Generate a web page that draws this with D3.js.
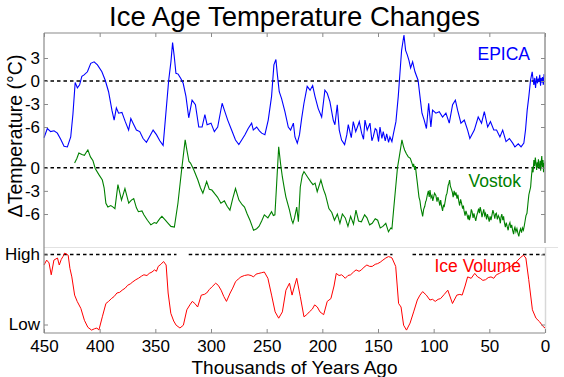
<!DOCTYPE html>
<html>
<head>
<meta charset="utf-8">
<script src="https://cdn.jsdelivr.net/npm/d3@7"></script>
<style>
  body { margin: 0; background: #fff; }
  svg text { font-family: "Liberation Sans", Arial, sans-serif; }
</style>
</head>
<body>
<div class="chart"></div>
<script>
// ages in thousands of years ago, temperature anomaly in degC
const ageTicks = [450, 400, 350, 300, 250, 200, 150, 100, 50, 0]
const epicaTicks = [3, 0, -3, -6]
const vostokTicks = [0, -3, -6]
const iceTicks = [1, 0]
const iceTickLabels = ["Low", "High"]
const iceRefSpans = [[450, 331], [320, 137], [119, 0]]

const epica = [
  [450,-7.4],[447,-6.2],[444,-6.6],[441,-6.5],[438,-6.8],[435,-7.6],[432,-8.5],[429,-8.6],[426,-7.3],[424,-4.3],
  [422,-0.2],[420,-0.9],[418,-0.5],[416,0.6],[414,0.8],[411,1.2],[408,2.3],[405,2.5],[402,2.1],[398,1.2],
  [395,0.1],[392,-1.4],[389,-3.8],[387,-5.1],[385,-3.5],[383,-4.2],[380,-4.1],[377,-5.3],[374,-6.4],[372,-4.9],
  [370,-5.5],[367,-6.4],[364,-6.6],[361,-7.5],[358,-8.0],[355,-7.2],[352,-6.4],[349,-7.0],[346,-7.8],[343,-8.4],
  [341,-5.0],[338,0.1],[336,2.5],[334.5,5.0],[333,3.2],[331.5,1.0],[329.5,0.9],[327,0.3],[325,-0.3],[322.5,-2.0],
  [320,-4.8],[317,-2.5],[314,-3.1],[311,-6.0],[308,-6.0],[305.5,-4.4],[303.5,-5.7],[300,-5.5],[297,-6.6],[294,-6.0],
  [290,-2.9],[288,-3.8],[285,-5.1],[281.5,-6.4],[278,-7.7],[275,-8.3],[272,-7.6],[269.5,-7.0],[266.6,-6.2],[263.5,-5.5],
  [262,-6.4],[259,-6.0],[256.5,-6.5],[254.5,-6.8],[251.6,-7.0],[248.6,-5.1],[245.6,-2.0],[243.5,2.1],[241.7,2.8],[240.5,1.0],
  [238.7,-1.4],[236.6,-2.3],[233.6,-4.0],[230.6,-6.0],[228.5,-6.4],[226,-5.5],[224.6,-7.3],[222.5,-8.1],[220.5,-7.0],[218.6,-4.9],
  [216.5,-2.9],[213.6,-0.7],[211,-1.2],[208.7,-0.6],[206.6,-2.0],[203.7,-3.6],[200.6,-4.7],[197.7,-1.2],[195.6,-1.6],[193.2,-2.7],
  [190.2,-5.1],[188.7,-5.7],[186.6,-3.1],[184.8,-6.4],[182.7,-7.7],[180,-8.3],[178,-7.0],[176.7,-5.7],[174,-7.4],[172.2,-5.3],
  [170,-6.6],[168,-5.8],[166.8,-5.3],[164.7,-6.8],[163,-7.6],[161.7,-5.1],[159.7,-6.4],[157.2,-5.5],[155.5,-7.8],[154.3,-7.3],
  [152.5,-6.2],[151.2,-6.4],[149.5,-7.9],[148.2,-6.0],[146.5,-7.5],[145.3,-6.6],[143.5,-7.8],[142.2,-6.9],[140.5,-8.0],[139.3,-7.3],
  [137.5,-7.9],[136.3,-7.0],[133.9,-5.3],[131.8,-2.0],[130.3,1.0],[128.8,4.0],[126.7,6.0],[125.2,4.0],[123.7,3.4],[122.2,2.7],
  [120.7,1.7],[118.9,2.5],[116.8,1.2],[114,0.1],[112.3,-2.0],[110.5,-4.2],[108.5,-5.1],[106.5,-6.2],[104.5,-2.9],[102.5,-6.0],
  [101,-3.8],[98,-4.2],[95,-4.0],[92,-4.7],[89,-4.2],[86,-5.5],[83,-3.1],[80.5,-2.5],[78.5,-3.8],[75.5,-5.5],
  [72.5,-5.1],[69.5,-6.4],[67.5,-7.5],[63.5,-6.4],[60,-4.7],[57,-5.5],[54.5,-4.0],[51.5,-6.0],[49,-5.3],[46,-6.4],
  [43.5,-6.4],[40.5,-7.3],[38,-6.4],[35,-7.9],[32,-7.5],[29,-8.1],[27,-8.6],[24,-8.2],[21.5,-8.6],[19,-8.1],
  [17.5,-6.4],[16,-3.8],[14.5,-2.0],[13,0.1],[11.5,1.2],[10.8,0.3],[10,-0.5],[9.2,0.4],[8.5,-0.9],[7.5,0.6],
  [6.8,-0.3],[6,0.3],[5.5,-0.1],[4.7,0.8],[4,-0.6],[3.5,0.4],[2.8,-0.2],[2.2,0.5],[1.5,-0.5],[0.8,0.9],[0,0.6]
]

const vostok = [
  [422.5,0.6],[420.5,1.2],[418.7,1.9],[416,1.7],[413.7,1.6],[412,2.0],[410.6,2.3],[408.3,1.4],[406,0.9],[404,-0.1],
  [400.7,-0.9],[397.6,-1.6],[396,-2.6],[394.4,-4.6],[392.6,-5.1],[390,-4.9],[387.9,-5.1],[386.3,-5.3],[383.6,-2.2],[380.4,-4.2],
  [377.3,-2.7],[373.9,-4.6],[371.5,-4.2],[369.4,-4.0],[367,-5.2],[365.2,-5.7],[362,-5.6],[360.3,-6.1],[357.1,-6.8],[354,-7.4],
  [351,-7.1],[349,-7.2],[346,-6.6],[344.1,-6.3],[341,-6.8],[338.5,-7.2],[336,-7.6],[332.9,-7.7],[329.7,-4.6],[326.4,-0.3],
  [323.2,3.6],[321.7,2.3],[319.8,0.8],[318.4,0.6],[315.4,-0.3],[311.8,-1.6],[309.5,-2.6],[307.3,-3.3],[303.9,-1.8],[301.5,-2.8],
  [299.2,-2.9],[296.5,-3.4],[294.2,-3.8],[291.1,-4.6],[288,-4.3],[285.5,-5.0],[283,-5.5],[280.5,-4.0],[278,-2.7],[274.9,-4.2],
  [272,-4.8],[269.9,-5.1],[267.5,-6.0],[265,-6.8],[263,-7.6],[261.8,-8.1],[259,-7.9],[256.9,-7.6],[254.5,-6.9],[252.1,-6.1],
  [248.9,-6.5],[245.6,-5.7],[244,-6.2],[242.6,-6.1],[241,-2.0],[239.2,2.7],[237.5,0.5],[235.9,-1.2],[234,-2.8],[232.7,-3.8],
  [229.5,-5.5],[227.5,-6.8],[226.4,-7.2],[225,-6.5],[223,-5.1],[221.5,-7.0],[219.8,-2.5],[218,-1.0],[216.5,-0.5],[213.3,-1.2],
  [210.5,-1.8],[208.4,-2.2],[206.5,-2.0],[204.6,-3.1],[201.3,-1.6],[199,-2.8],[197.2,-3.5],[194.1,-5.3],[191.5,-5.8],[189.1,-6.8],
  [186.5,-6.0],[184.2,-7.2],[182,-6.0],[179.4,-6.5],[177,-7.6],[174.6,-6.3],[172,-7.3],[169.8,-5.5],[167.5,-6.9],[164.9,-7.0],
  [162,-6.1],[159.9,-6.5],[157.5,-7.4],[155.2,-7.2],[152.5,-6.6],[150.3,-6.8],[148,-7.8],[145.6,-7.6],[143,-7.2],[140.6,-8.3],
  [138.5,-7.8],[137.5,-7.9],[136,-5.5],[134.1,-2.5],[132.5,0.0],[130.9,1.4],[128.5,3.6],[127.2,2.8],[126.1,2.3],[124.5,1.8],
  [122.8,1.4],[121,1.2],[119.5,0.6],[118.5,0.1],[118,0.5],[117,-0.3],[116.4,0.2],[115.5,-1.0],[114.8,-1.8],[114,-2.8],
  [113.2,-3.8],[112.3,-4.3],[111.5,-5.2],[110.6,-5.8],[109.9,-6.3],[109,-5.4],[108,-5.0],[107.2,-4.4],[106.6,-4.2],[105.8,-3.6],
  [104.8,-3.0],[104,-3.8],[103.3,-2.9],[102.4,-3.9],[101.5,-3.6],[100.8,-4.3],[100.2,-3.9],[99.2,-3.3],[98,-3.6],[97,-4.4],
  [96.2,-3.8],[95.4,-4.2],[94.5,-4.9],[93.7,-4.2],[93,-4.9],[92,-5.6],[91.2,-4.8],[90.6,-5.1],[89.6,-4.3],[88.8,-3.6],
  [88,-3.3],[87,-2.3],[86.3,-2.0],[85.7,-1.6],[85,-2.4],[84,-2.8],[83.2,-3.2],[82.5,-3.8],[81.6,-3.0],[80.8,-3.6],
  [80,-3.2],[79,-4.0],[78.2,-3.5],[77.6,-4.2],[76.7,-4.9],[75.8,-4.1],[75,-4.6],[74,-5.3],[73.3,-4.9],[72.8,-5.5],
  [71.8,-6.2],[71,-5.6],[70,-6.1],[69.1,-6.7],[68.4,-6.1],[67.9,-6.8],[66.9,-6.2],[66.2,-5.4],[65.5,-5.7],[64.6,-6.5],
  [63.8,-5.9],[63.1,-6.4],[62.2,-6.9],[61.3,-6.2],[60.5,-5.8],[59.6,-5.3],[58.9,-5.9],[58.2,-5.1],[57.3,-5.7],[56.6,-6.4],
  [56,-6.0],[55,-5.4],[54.2,-6.2],[53.4,-5.9],[52.5,-6.7],[51.7,-6.0],[51,-6.4],[50.1,-7.0],[49.3,-6.3],[48.5,-6.8],
  [47.6,-6.1],[46.8,-5.5],[46,-5.9],[45.1,-6.6],[44.4,-6.0],[43.7,-5.9],[42.8,-6.7],[41.9,-6.2],[41,-6.5],[40.1,-7.2],
  [39.5,-6.4],[38.8,-6.0],[37.9,-6.8],[37.2,-6.3],[36.5,-7.1],[35.6,-7.7],[34.8,-7.1],[34,-7.6],[33.1,-8.1],[32.3,-7.4],
  [31.5,-7.1],[30.7,-7.8],[29.9,-7.4],[29.1,-8.1],[28.2,-8.6],[27.5,-7.9],[27,-7.7],[26.1,-8.3],[25.2,-7.9],[24.3,-8.5],
  [23.5,-8.9],[22.7,-8.2],[22,-7.9],[21.1,-8.4],[20.3,-7.8],[19.4,-8.1],[18.6,-7.5],[18,-7.0],[17.1,-6.2],[16.2,-5.9],
  [15.3,-4.6],[14.5,-3.5],[13.7,-3.0],[12.9,-2.5],[12.1,-1.0],[11.3,0.1],[10.7,-0.6],[10,1.0],[9.3,0.2],[8.7,1.3],
  [8.1,0.6],[7.5,-0.3],[6.9,0.7],[6.5,0.0],[5.9,1.1],[5.4,0.2],[4.9,-0.1],[4.3,0.9],[3.9,-0.4],[3.5,0.5],
  [2.9,1.5],[2.4,0.1],[1.8,1.0],[1.3,-0.6],[0.9,0.6],[0.5,0.2],[0,0.8]
]

// ice volume, 0 = Low, 1 = High
const iceVolume = [
  [450,0.85],[447.6,0.92],[445.5,0.88],[443.5,0.71],[441.1,0.92],[437.9,0.95],[436.3,0.85],[434.5,0.93],[433,0.97],[431.4,1.02],
  [428.3,0.99],[426.7,0.80],[425,0.68],[422.5,0.42],[420.2,0.33],[416.9,0.23],[413.7,0.06],[410.6,-0.04],[407.3,-0.08],[404.5,-0.06],
  [402.5,-0.05],[400.7,-0.08],[397.6,0.11],[394.4,0.30],[392,0.33],[389.5,0.37],[387,0.40],[384.5,0.45],[382,0.46],[379.8,0.49],
  [377,0.52],[374.9,0.56],[372.5,0.58],[370.2,0.61],[367.5,0.64],[365.2,0.66],[362.5,0.69],[360.3,0.71],[357.5,0.70],[355.5,0.73],
  [353,0.75],[350.7,0.78],[349,0.76],[347.4,0.83],[345,0.86],[342.6,0.90],[340.3,0.85],[338.5,0.45],[336.1,0.16],[333.5,0.05],
  [331.3,-0.01],[327.9,-0.05],[324.8,-0.01],[321.7,0.21],[319,0.28],[316.8,0.33],[314.5,0.30],[312,0.25],[308.7,0.42],[306,0.43],
  [303.9,0.45],[301.5,0.50],[299,0.54],[295.8,0.59],[293.5,0.56],[290.9,0.49],[288.5,0.40],[286.1,0.33],[282.8,0.45],[280.5,0.52],
  [278,0.61],[275.5,0.65],[273.1,0.68],[270,0.70],[266.7,0.71],[264,0.70],[261.8,0.68],[259.5,0.72],[257,0.73],[254.5,0.74],
  [252.1,0.75],[248.9,0.66],[245.6,0.42],[242.4,0.18],[239.2,0.09],[235.9,0.18],[232.7,0.49],[229.5,0.59],[227.2,0.42],[225,0.55],
  [223,0.66],[219.8,0.40],[216.5,0.11],[214,0.14],[211.7,0.18],[209,0.22],[206.9,0.28],[204.5,0.25],[202.1,0.18],[198.8,0.14],
  [195.6,0.33],[192.3,0.37],[189.5,0.55],[187.5,0.73],[185,0.70],[182.7,0.71],[180.5,0.68],[179.4,0.66],[177,0.70],[174.6,0.71],
  [172,0.75],[169.7,0.78],[167,0.76],[164.9,0.78],[162.5,0.82],[160,0.85],[157.5,0.83],[155.2,0.83],[152.5,0.86],[150.3,0.87],
  [148,0.89],[145.6,0.92],[143,0.95],[140.6,0.97],[138.5,0.96],[137.4,0.95],[134.1,0.83],[131.5,0.30],[129.3,0.25],[127,-0.01],
  [124.4,-0.08],[121.2,0.02],[118,0.18],[114.7,0.35],[112.3,0.42],[109.9,0.47],[106.6,0.42],[103.4,0.35],[101,0.36],[98.6,0.33],
  [96,0.36],[93.8,0.37],[90.5,0.43],[87.3,0.49],[83.1,0.30],[79.2,0.42],[76.5,0.43],[74.4,0.42],[71.8,0.55],[69.5,0.68],
  [66.3,0.66],[63.1,0.73],[60.5,0.68],[58.2,0.66],[55.8,0.63],[53.4,0.64],[51,0.67],[48.5,0.68],[46,0.66],[43.7,0.71],
  [41,0.73],[38.8,0.75],[36.5,0.77],[34,0.80],[31.5,0.82],[29.1,0.85],[26.5,0.88],[24.3,0.92],[21.7,0.96],[19.4,0.99],
  [17.2,0.95],[14.6,0.64],[11.3,0.21],[8.1,0.09],[4.9,0.04],[1.6,-0.03],[0,-0.05]
]

let width = 564
let height = 377
let plotLeft = 44, plotRight = 545, plotTop = 33, plotBottom = 333
let tempBottom = 243, iceTop = 247.5

let svg = d3.select(".chart")
  .append("svg")
  .attr("width", width)
  .attr("height", height)

let x = d3.scaleLinear().domain([450, 0]).range([plotLeft, plotRight])
let yEpica = d3.scaleLinear().domain([-9, 6]).range([150, 35])
let yVostok = d3.scaleLinear().domain([-9, 4]).range([237.2, 136.8])
let yIce = d3.scaleLinear().domain([0, 1]).range([324.5, 254.5])

// faint box of the ice volume panel
svg.append("line")
  .attr("x1", plotLeft).attr("x2", 558).attr("y1", iceTop).attr("y2", iceTop)
  .style("stroke", "#e2e2e2")
svg.append("line")
  .attr("x1", plotRight + 0.5).attr("x2", plotRight + 0.5).attr("y1", iceTop).attr("y2", plotBottom)
  .style("stroke", "#d8d8d8").style("stroke-width", 1.5)

// dashed reference lines
let dash = "3.5,3"
;[yEpica(0), yVostok(0)].forEach(yy => {
  svg.append("line")
    .attr("x1", plotLeft).attr("x2", plotRight).attr("y1", yy).attr("y2", yy)
    .style("stroke", "#000").style("stroke-width", 1.4).style("stroke-dasharray", dash)
})
svg.selectAll(".iceref")
  .data(iceRefSpans)
  .enter()
  .append("line")
  .attr("class", "iceref")
  .attr("x1", d => x(d[0])).attr("x2", d => x(d[1]))
  .attr("y1", yIce(1)).attr("y2", yIce(1))
  .style("stroke", "#000").style("stroke-width", 1.4).style("stroke-dasharray", dash)

// series
let line = yScale => d3.line().x(d => x(d[0])).y(d => yScale(d[1]))

svg.append("path").datum(iceVolume)
  .attr("d", line(yIce))
  .style("fill", "none").style("stroke", "#ff0000").style("stroke-width", 1)

svg.append("path").datum(vostok)
  .attr("d", line(yVostok))
  .style("fill", "none").style("stroke", "#008000").style("stroke-width", 1.1)

svg.append("path").datum(epica)
  .attr("d", line(yEpica))
  .style("fill", "none").style("stroke", "#0000ff").style("stroke-width", 1.1)

// frame
let frame = "#8a8a8a"
svg.append("line").attr("x1", plotLeft).attr("x2", plotRight).attr("y1", plotTop).attr("y2", plotTop)
  .style("stroke", frame).style("stroke-width", 1.2)
svg.append("line").attr("x1", plotLeft).attr("x2", plotLeft).attr("y1", plotTop).attr("y2", plotBottom)
  .style("stroke", frame).style("stroke-width", 1.2)
svg.append("line").attr("x1", plotLeft).attr("x2", plotRight).attr("y1", plotBottom).attr("y2", plotBottom)
  .style("stroke", frame).style("stroke-width", 1.2)
svg.append("line").attr("x1", plotRight).attr("x2", plotRight).attr("y1", plotTop).attr("y2", tempBottom)
  .style("stroke", "#a8a8a8").style("stroke-width", 1.8)

// axes
let fontSize = "17px"

function styleAxis(g) {
  g.select(".domain").remove()
  g.selectAll(".tick line").style("stroke", frame)
  g.selectAll(".tick text").style("font-size", fontSize).style("fill", "#000")
    .style("font-family", '"Liberation Sans", Arial, sans-serif')
}

svg.append("g")
  .attr("transform", `translate(0,${plotBottom})`)
  .call(d3.axisBottom(x).tickValues(ageTicks).tickFormat(d => String(d))
    .tickSizeInner(-4).tickSizeOuter(0).tickPadding(7))
  .call(styleAxis)

svg.append("g")
  .attr("transform", `translate(0,${plotTop})`)
  .call(d3.axisTop(x).tickValues(ageTicks).tickFormat("").tickSizeInner(-4).tickSizeOuter(0))
  .call(styleAxis)

let leftAxes = [
  [yEpica, epicaTicks, d => String(d)],
  [yVostok, vostokTicks, d => String(d)],
  [yIce, iceTicks, d => iceTickLabels[d]]
]

leftAxes.forEach(a => {
  svg.append("g")
    .attr("transform", `translate(${plotLeft},0)`)
    .call(d3.axisLeft(a[0]).tickValues(a[1]).tickFormat(a[2])
      .tickSizeInner(-4).tickSizeOuter(0).tickPadding(4))
    .call(styleAxis)

  svg.append("g")
    .attr("transform", `translate(${plotRight},0)`)
    .call(d3.axisRight(a[0]).tickValues(a[1]).tickFormat("")
      .tickSizeInner(-4).tickSizeOuter(0))
    .call(styleAxis)
})

// titles
svg.append("text")
  .attr("x", (plotLeft + plotRight) / 2)
  .attr("y", 26)
  .attr("text-anchor", "middle")
  .style("font-size", "27.5px")
  .text("Ice Age Temperature Changes")

svg.append("text")
  .attr("x", (plotLeft + plotRight) / 2)
  .attr("y", 374)
  .attr("text-anchor", "middle")
  .style("font-size", "19px")
  .text("Thousands of Years Ago")

svg.append("text")
  .attr("transform", "translate(22,136) rotate(-90)")
  .attr("text-anchor", "middle")
  .style("font-size", "19.5px")
  .text("\u0394Temperature (\u00b0C)")

// series labels
svg.append("text")
  .attr("x", 530).attr("y", 60)
  .attr("text-anchor", "end")
  .style("font-size", "17.5px").style("fill", "#0000ff")
  .text("EPICA")

svg.append("text")
  .attr("x", 521).attr("y", 187)
  .attr("text-anchor", "end")
  .style("font-size", "17.5px").style("fill", "#008000")
  .text("Vostok")

svg.append("text")
  .attr("x", 521).attr("y", 272)
  .attr("text-anchor", "end")
  .style("font-size", "17.5px").style("fill", "#ff0000")
  .text("Ice Volume")
</script>
</body>
</html>
